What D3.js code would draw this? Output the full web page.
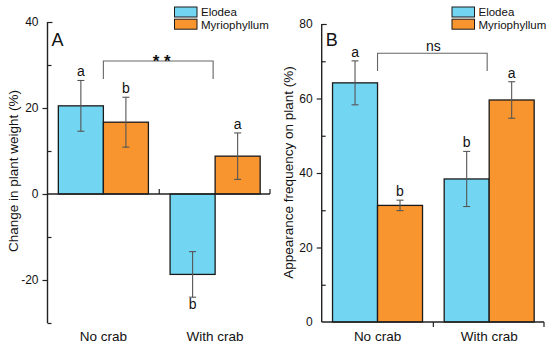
<!DOCTYPE html>
<html><head><meta charset="utf-8">
<script src="https://cdn.jsdelivr.net/npm/d3@7"></script>
<style>body{margin:0;background:#fff}svg{display:block}text{font-family:"Liberation Sans",Arial,sans-serif;fill:#111}</style>
</head><body><svg id="c" width="550" height="346"></svg>
<script>
const categories = ["No crab", "With crab"];
const series = ["Elodea", "Myriophyllum"];
const colors = ["#72D6F3", "#F8952E"];
// Panel A: change in plant weight (%)
const weightMean = [[20.5, 16.7], [-18.7, 8.8]];
const weightErr = [[5.9, 5.8], [5.3, 5.4]];
const weightLetters = [["a", "b"], ["b", "a"]];
const weightTicks = [-20, 0, 20, 40];
const weightMinor = [-30, -10, 10, 30];
// Panel B: appearance frequency on plant (%)
const freqMean = [[64.2, 31.3], [38.4, 59.6]];
const freqErr = [[5.9, 1.4], [7.4, 4.9]];
const freqLetters = [["a", "b"], ["b", "a"]];
const freqTicks = [0, 20, 40, 60, 80];
const freqMinor = [10, 30, 50, 70];

const svg = d3.select("#c");
const fmt = d => String(d);

function panel(o) {
  const g = svg.append("g");
  const x = d3.scaleBand().domain(categories).range(o.xr).paddingInner(0).paddingOuter(0);
  const y = d3.scaleLinear().domain(o.dom).range(o.yr);
  const bw = x.bandwidth() * 0.403;
  const xs = d3.scaleBand().domain(series).range([-bw, bw]);
  const x0 = o.xr[0];
  const top = o.dom[1];

  // y axis major (outward, except top which points inward)
  const ya = g.append("g").attr("transform", `translate(${x0},0)`)
    .call(d3.axisLeft(y).tickValues(o.ticks).tickSize(5).tickSizeOuter(0).tickPadding(4).tickFormat(fmt));
  ya.select(".domain").remove();
  ya.selectAll(".tick line").attr("stroke", "#222").attr("stroke-width", 1.2)
    .attr("x2", d => d === top ? 5 : (d === o.dom[0] ? 0 : -5));
  ya.selectAll("text").style("font-size", "12px").attr("fill", "#111");
  // minor ticks inward
  const ym = g.append("g").attr("transform", `translate(${x0},0)`)
    .call(d3.axisLeft(y).tickValues(o.minor).tickSize(-4).tickSizeOuter(0).tickFormat(""));
  ym.select(".domain").remove();
  ym.selectAll("line").attr("stroke", "#222").attr("stroke-width", 1.2);

  // bars
  categories.forEach((c, i) => {
    series.forEach((s, j) => {
      const v = o.mean[i][j], e = o.err[i][j];
      const cx = x(c) + x.bandwidth() / 2;
      const bx = cx + xs(s);
      g.append("rect").attr("x", bx).attr("width", xs.bandwidth())
        .attr("y", y(Math.max(0, v))).attr("height", Math.abs(y(v) - y(0)))
        .attr("fill", colors[j]).attr("stroke", "#1a1a1a").attr("stroke-width", 1.3);
      const ex = bx + xs.bandwidth() / 2;
      const eg = g.append("g").attr("stroke", "#555").attr("stroke-width", 1.1);
      eg.append("line").attr("x1", ex).attr("x2", ex).attr("y1", y(v + e)).attr("y2", y(v - e));
      eg.append("line").attr("x1", ex - 3.5).attr("x2", ex + 3.5).attr("y1", y(v + e)).attr("y2", y(v + e));
      eg.append("line").attr("x1", ex - 3.5).attr("x2", ex + 3.5).attr("y1", y(v - e)).attr("y2", y(v - e));
      const below = v < 0;
      g.append("text").attr("x", ex).attr("y", below ? y(v - e) + 12 : y(v + e) - 4)
        .attr("text-anchor", "middle").style("font-size", "14px").text(o.letters[i][j]);
    });
  });

  // y axis line
  g.append("line").attr("x1", x0).attr("x2", x0).attr("y1", o.yr[1]).attr("y2", o.yr[0])
    .attr("stroke", "#222").attr("stroke-width", 1.4);
  // x axis
  const xa = g.append("g").attr("transform", `translate(0,${y(0)})`)
    .call(d3.axisBottom(x).tickSize(0).tickFormat(""));
  xa.select(".domain").attr("stroke", "#222").attr("stroke-width", 1.4).attr("d", `M${x0},0H${o.xr[1] - 1}`);
  xa.selectAll(".tick").remove();
  categories.forEach(c => {
    const tx = x(c) + x.bandwidth() - (c === categories[1] ? 1 : 0);
    g.append("line").attr("x1", tx).attr("x2", tx).attr("y1", y(0)).attr("y2", y(0) + o.xTickDir * 5)
      .attr("stroke", "#222").attr("stroke-width", 1.2);
  });
  categories.forEach(c => {
    g.append("text").attr("x", x(c) + x.bandwidth() / 2).attr("y", 340.5)
      .attr("text-anchor", "middle").style("font-size", "13.5px").text(c);
  });

  // y title
  g.append("text").attr("transform", `translate(${o.titleX},${o.titleY}) rotate(-90)`)
    .attr("text-anchor", "middle").style("font-size", "13.5px").text(o.title);
  // panel letter
  g.append("text").attr("x", x0 + 4).attr("y", 45.5).style("font-size", "18px").text(o.label);

  // bracket
  const c1 = x(categories[0]) + x.bandwidth() / 2, c2 = x(categories[1]) + x.bandwidth() / 2;
  g.append("path").attr("d", `M${c1},${o.brBot}V${o.brTop}H${c2 - 2}V${o.brBot}`)
    .attr("fill", "none").attr("stroke", "#666").attr("stroke-width", 1.1);
  g.append("text").attr("x", (c1 + c2) / 2 + o.sigDx).attr("y", o.sigY).attr("text-anchor", "middle")
    .style("font-size", o.sigSize).style("font-weight", o.sigWeight).text(o.sig);

  // legend
  series.forEach((s, j) => {
    g.append("rect").attr("x", o.legX).attr("y", 7 + j * 12.2).attr("width", 22.5).attr("height", 10)
      .attr("fill", colors[j]).attr("stroke", "#1a1a1a").attr("stroke-width", 1);
    g.append("text").attr("x", o.legX + 26.5).attr("y", 16.3 + j * 12.2).style("font-size", "11.5px").text(s);
  });
}

panel({xr: [47.5, 271], yr: [323, 22], dom: [-30, 40], ticks: weightTicks, minor: weightMinor,
  mean: weightMean, err: weightErr, letters: weightLetters, xTickDir: -1,
  title: "Change in plant weight (%)", titleX: 18, titleY: 171, label: "A",
  brTop: 61, brBot: 79, sig: "* *", sigY: 67, sigSize: "17px", sigWeight: "bold", sigDx: 2.5, legX: 174.5});
panel({xr: [321.7, 545], yr: [322, 24], dom: [0, 80], ticks: freqTicks, minor: freqMinor,
  mean: freqMean, err: freqErr, letters: freqLetters, xTickDir: 1,
  title: "Appearance frequency on plant (%)", titleX: 293, titleY: 172.5, label: "B",
  brTop: 53.3, brBot: 71, sig: "ns", sigY: 51, sigSize: "14px", sigWeight: "normal", sigDx: 0, legX: 452});
</script></body></html>
